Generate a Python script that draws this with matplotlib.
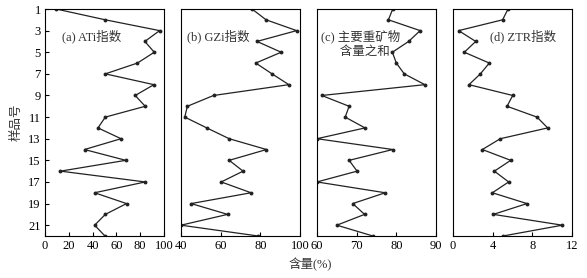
import matplotlib.pyplot as plt
import numpy as np

plt.rcParams['font.family'] = ['Liberation Serif', 'Noto Sans CJK SC']
plt.rcParams['font.size'] = 9

samples = np.arange(1, 23)

ati = [9.3, 50.7, 96.3, 83.9, 91.8, 77.7, 50.7, 91.5, 75.8, 84.2, 50.7,
       44.5, 63.9, 33.2, 67.9, 13.0, 84.2, 41.7, 68.5, 50.7, 41.7, 50.4]
gzi = [75.8, 82.9, 98.3, 78.3, 90.5, 77.7, 85.9, 94.4, 56.4, 43.2, 41.9,
       53.0, 64.3, 83.1, 64.3, 71.3, 60.3, 75.3, 45.1, 63.5, 40.0, 78.9]
heavy = [79.1, 78.0, 86.0, 83.1, 79.0, 80.0, 82.0, 87.2, 61.2, 68.1, 67.1,
         72.1, 60.0, 79.1, 68.1, 70.1, 60.0, 77.2, 69.0, 72.0, 65.0, 74.1]
ztr = [5.55, 5.0, 0.57, 2.29, 1.14, 3.66, 2.76, 1.61, 6.02, 5.45, 8.47,
       9.55, 4.77, 2.96, 5.82, 4.17, 5.61, 3.97, 7.46, 4.07, 11.03, 5.04]

panels = [
    (ati, "(a) ATi指数", (0, 100), [0, 20, 40, 60, 80, 100]),
    (gzi, "(b) GZi指数", (40, 100), [40, 60, 80, 100]),
    (heavy, "(c) 主要重矿物\n      含量之和", (60, 90), [60, 70, 80, 90]),
    (ztr, "(d) ZTR指数", (0, 12), [0, 4, 8, 12]),
]
lefts = [45, 181, 317, 453]
label_x = [0.14, 0.05, 0.03, 0.31]

fig = plt.figure(figsize=(5.87, 2.78), dpi=100)
for i, (vals, title, xlim, xticks) in enumerate(panels):
    ax = fig.add_axes([lefts[i] / 587, 42 / 278, 119 / 587, 227 / 278])
    ax.plot(vals, samples, color="#222222", lw=0.9, marker="o", ms=1.8)
    ax.set_xlim(*xlim)
    ax.set_ylim(22, 1)
    ax.set_xticks(xticks)
    ax.tick_params(direction="in", length=3, width=0.8, pad=3)
    if i == 0:
        ax.set_yticks(np.arange(1, 22, 2))
        ax.set_ylabel("样品号", labelpad=4, color="#333333")
    else:
        ax.set_yticks([])
    ax.text(label_x[i], 0.91, title, transform=ax.transAxes, va="top",
            ha="left", color="#333333", linespacing=1.25)
    for s in ax.spines.values():
        s.set_linewidth(0.8)

fig.text(310 / 587, 1 - 265 / 278, "含量(%)", ha="center", va="center",
         color="#333333")

plt.savefig("out.png", dpi=100)
plt.close()
